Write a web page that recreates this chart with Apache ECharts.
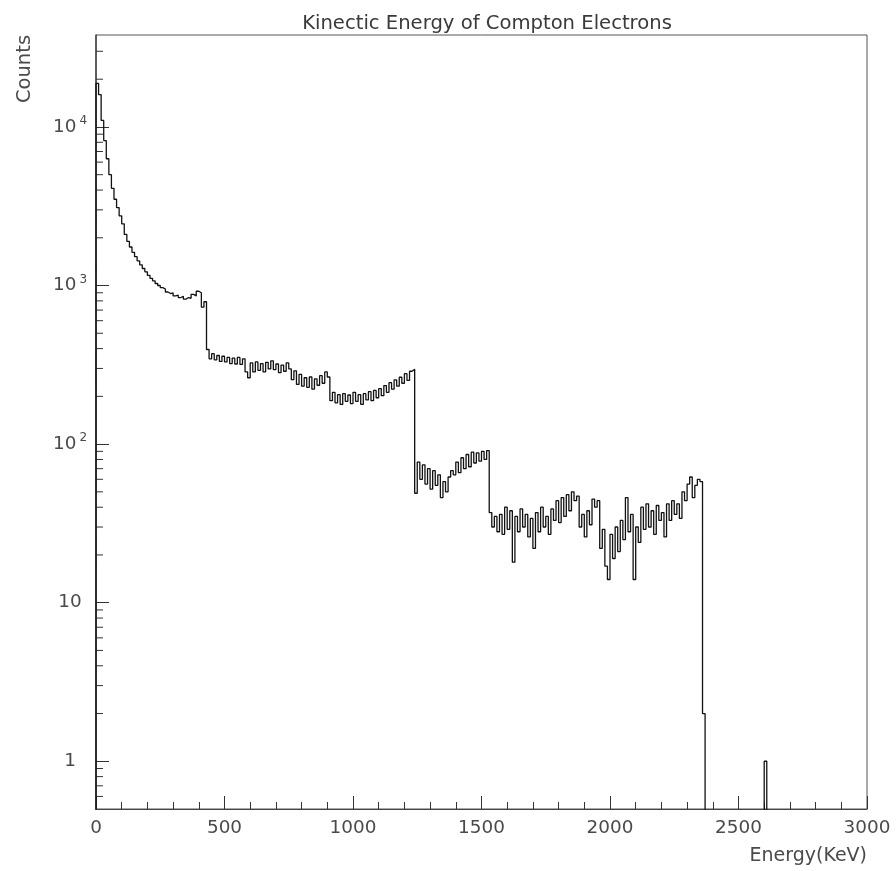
<!DOCTYPE html>
<html>
<head>
<meta charset="utf-8">
<script src="https://cdn.jsdelivr.net/npm/echarts@6/dist/echarts.min.js"></script>
<style>
html,body{margin:0;padding:0;background:#fff;}
#chart{width:896px;height:871px;}
</style>
</head>
<body>
<div id="chart"></div>
<script>
// ---- data ----
const titleText = 'Kinectic Energy of Compton Electrons';
const xAxisName = 'Energy(KeV)';
const yAxisName = 'Counts';
const binWidth = 10; // keV
const xTickLabels = ['0', '500', '1000', '1500', '2000', '2500', '3000'];
const yMajorTicks = [1, 10, 100, 1000, 10000];
const yMinorTicks = [0.6, 0.7, 0.8, 0.9, 2, 3, 4, 5, 6, 7, 8, 9, 20, 30, 40, 50, 60, 70, 80, 90,
  200, 300, 400, 500, 600, 700, 800, 900, 2000, 3000, 4000, 5000, 6000, 7000, 8000, 9000, 20000, 30000];

// counts per 10 keV bin, starting at 0 keV
const countsLowEnergy = [ // 0 - 430 keV
  18800, 16000, 11000, 8200, 6300, 5000, 4100, 3500, 3100, 2750,
  2450, 2100, 1900, 1750, 1620, 1520, 1430, 1350, 1280, 1220,
  1160, 1110, 1070, 1030, 1000, 970, 950, 910, 890, 900,
  860, 870, 840, 855, 820, 840, 830, 880, 860, 920,
  900, 730, 790
];
const countsEdge1 = [ // 430 - 910 keV
  395, 345, 372, 340, 362, 332, 358, 330, 352, 322,
  348, 320, 352, 318, 345, 285, 262, 325, 285, 330,
  292, 322, 285, 328, 298, 335, 295, 320, 282, 315,
  288, 325, 298, 255, 290, 238, 275, 232, 262, 228,
  265, 222, 258, 235, 270, 242, 285, 265
];
const countsEdge2 = [ // 910 - 1240 keV
  188, 212, 182, 205, 178, 208, 186, 204, 180, 212,
  186, 205, 178, 208, 190, 214, 188, 218, 196, 224,
  202, 234, 212, 244, 222, 254, 232, 264, 242, 278,
  252, 288, 296
];
const countsEdge3 = [ // 1240 - 1530 keV
  49, 77, 60, 74, 56, 70, 52, 68, 55, 64,
  46, 58, 50, 62, 68, 64, 77, 66, 82, 70,
  86, 72, 89, 76, 88, 78, 90, 80, 91
];
const countsEdge4 = [ // 1530 - 2360 keV
  37, 30, 35, 28, 36, 27, 40, 29, 38, 18,
  35, 28, 39, 30, 36, 26, 34, 22, 37, 28,
  40, 30, 35, 27, 39, 33, 44, 32, 46, 35,
  48, 38, 50, 44, 47, 30, 36, 26, 38, 31,
  45, 40, 44, 22, 29, 17, 14, 27, 19, 30,
  21, 33, 25, 46, 28, 36, 14, 30, 24, 40,
  29, 42, 30, 38, 27, 41, 33, 37, 26, 42,
  33, 44, 36, 42, 34, 50, 44, 56, 62, 46,
  55, 60, 58
];
const countsTail = [2]; // 2360 - 2370 keV
const isolatedBins = [[2600, 1]]; // [bin start keV, count]
const histEnd = 3000;

// ---- build histogram path ----
const ZERO_FLOOR = 0.01; // empty bins drawn below the visible axis range
const counts = [].concat(countsLowEnergy, countsEdge1, countsEdge2, countsEdge3, countsEdge4, countsTail);
const nBins = histEnd / binWidth;
const full = [];
for (let i = 0; i < nBins; i++) full.push(i < counts.length ? counts[i] : 0);
isolatedBins.forEach(([e, c]) => { full[Math.round(e / binWidth)] = c; });
const histData = [[0, ZERO_FLOOR]];
full.forEach((c, i) => histData.push([i * binWidth, c > 0 ? c : ZERO_FLOOR]));
histData.push([nBins * binWidth, ZERO_FLOOR]);

const supDigits = {1: '', 10: '', 100: '2', 1000: '3', 10000: '4'};

const chart = echarts.init(document.getElementById('chart'), null, {renderer: 'canvas'});
const FONT = 'DejaVu Sans';
const TXT = '#4a4a4a';
chart.setOption({
  animation: false,
  backgroundColor: '#ffffff',
  title: {
    text: titleText,
    left: 482, top: 9, textAlign: 'center',
    textStyle: {fontFamily: FONT, fontSize: 19.6, fontWeight: 'normal', color: '#3a3a3a'}
  },
  graphic: [{
    type: 'text', x: 24.5, y: 69, rotation: Math.PI / 2, silent: true,
    style: {text: yAxisName, fontFamily: FONT, fontSize: 19.5, fill: TXT, align: 'center', verticalAlign: 'middle'}
  }],
  grid: {left: 96, right: 29, top: 35, bottom: 62, show: true, borderColor: '#555', borderWidth: 1, containLabel: false},
  xAxis: {
    type: 'value', min: 0, max: 3000, interval: 500,
    name: xAxisName, nameLocation: 'end', nameGap: 0,
    nameTextStyle: {fontFamily: FONT, fontSize: 19, color: TXT, align: 'right', verticalAlign: 'top', padding: [38, 0, 0, 0]},
    axisLine: {show: true, lineStyle: {color: '#444', width: 1}},
    axisTick: {show: true, inside: true, length: 13, lineStyle: {color: '#333'}},
    minorTick: {show: true, splitNumber: 5, length: 7, lineStyle: {color: '#333'}},
    splitLine: {show: false},
    axisLabel: {
      fontFamily: FONT, fontSize: 18.4, color: TXT, margin: 10,
      formatter: v => xTickLabels[Math.round(v / 500)] || ''
    }
  },
  yAxis: {
    type: 'log', logBase: 10, min: 0.5, max: 38000,
    axisLine: {show: true, lineStyle: {color: '#444', width: 1.5}},
    axisTick: {show: true, inside: true, length: 13, lineStyle: {color: '#333'}},
    minorTick: {show: false},
    splitLine: {show: false},
    axisLabel: {
      fontFamily: FONT, fontSize: 18.4, color: TXT, margin: 26, align: 'center',
      showMinLabel: false, showMaxLabel: false,
      formatter: v => {
        const m = yMajorTicks.find(t => Math.abs(Math.log10(t) - Math.log10(v)) < 1e-6);
        if (m === undefined) return '';
        const s = supDigits[m];
        return s ? '{b|10}{s|' + s + '}' : '{b|' + m + '}';
      },
      rich: {
        b: {fontFamily: FONT, fontSize: 18.4, color: TXT, lineHeight: 24},
        s: {fontFamily: FONT, fontSize: 12, color: TXT, verticalAlign: 'top', padding: [0, 0, 0, 3], lineHeight: 14}
      }
    }
  },
  series: [
    {
      type: 'line', data: histData, step: 'end', showSymbol: false, symbol: 'none',
      clip: true, silent: true,
      lineStyle: {color: '#111', width: 1.3}
    },
    {
      type: 'custom', silent: true, clip: false,
      data: yMinorTicks.map(v => [0, v]),
      renderItem: (params, api) => {
        const p = api.coord([0, api.value(1)]);
        return {type: 'line', shape: {x1: p[0], y1: p[1], x2: p[0] + 7, y2: p[1]}, style: {stroke: '#333', lineWidth: 1}};
      }
    }
  ]
});
</script>
</body>
</html>
